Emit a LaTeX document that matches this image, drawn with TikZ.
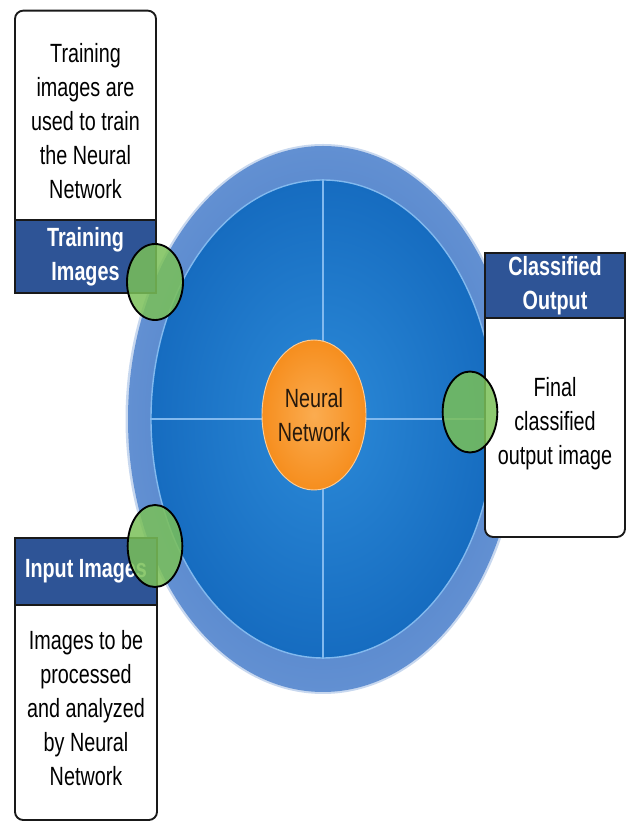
\documentclass[tikz,border=0pt]{standalone}
\usepackage{fontspec}
\setmainfont{Liberation Sans}[FakeStretch=0.75]
\usetikzlibrary{positioning,shapes.geometric}

\definecolor{headblue}{RGB}{46,84,150}
\definecolor{rimin}{RGB}{62,114,192}
\definecolor{rimout}{RGB}{98,144,210}
\definecolor{hubin}{RGB}{44,138,216}
\definecolor{hubout}{RGB}{22,108,192}
\definecolor{spokeblue}{RGB}{130,185,238}
\definecolor{coreorange}{RGB}{246,142,30}
\definecolor{corelight}{RGB}{251,172,80}
\definecolor{portgreen}{RGB}{122,192,88}

\tikzset{
	notebox/.style={draw=black!90, line width=1.6pt, fill=white, rounded corners=7pt,
		inner sep=0pt, align=center, font=\fontsize{22.5}{29}\selectfont},
	headbox/.style={draw=black!90, line width=1.6pt, fill=headblue, text=white,
		inner sep=0pt, align=center, font=\fontsize{22.5}{29}\selectfont\bfseries},
	port/.style={ellipse, draw=black, line width=1.6pt, fill=portgreen,
		fill opacity=0.85, inner sep=0pt, minimum width=1.64cm},
	spoke/.style={draw=spokeblue, line width=1.3pt}
}

\begin{document}
\begin{tikzpicture}
	\useasboundingbox (0,0) rectangle (18.87,24.69);
	\coordinate (o) at (9.69,12.12);
	%% wheel
	\node[ellipse, minimum width=11.85cm, minimum height=16.5cm, inner sep=0pt,
		fill=rimout!35!white] (halo) at (o) {};
	\node[ellipse, minimum width=11.7cm, minimum height=16.38cm, inner sep=0pt,
		inner color=rimin, outer color=rimout] (rim) at (o) {};
	\node[ellipse, minimum width=10.32cm, minimum height=14.34cm, inner sep=0pt,
		draw=spokeblue, line width=1.2pt, inner color=hubin, outer color=hubout] (hub) at (o) {};
	\draw[spoke] (hub.north) -- (hub.south);
	\draw[spoke] (hub.west) -- (hub.east);
	\node[ellipse, minimum width=3.12cm, minimum height=4.5cm, inner sep=0pt,
		draw=corelight!60!white, line width=0.8pt, inner color=corelight, outer color=coreorange,
		text=black!80!brown, align=center, font=\fontsize{22.5}{29}\selectfont,
		above right =0.12 and -0.27 of o, anchor=center] (nn) {Neural\\Network};
	%% training box (upper left)
	\node[notebox, minimum width=4.23cm, minimum height=6.6cm,
		above right =8.95 and -7.125 of o, anchor=center] (trainnote)
		{Training\\images are\\used to train\\the Neural\\Network};
	\node[headbox, minimum width=4.23cm, minimum height=2.19cm,
		above right =4.875 and -7.125 of o, anchor=center] (trainhead) {Training\\Images};
	%% output box (right)
	\node[notebox, minimum width=4.2cm, minimum height=6.81cm,
		above right =-0.135 and 6.96 of o, anchor=center] (outnote)
		{Final\\classified\\output image};
	\node[headbox, minimum width=4.2cm, minimum height=1.95cm,
		above right =4.005 and 6.96 of o, anchor=center] (outhead) {Classified\\Output};
	%% input box (lower left)
	\node[notebox, minimum width=4.26cm, minimum height=6.69cm,
		above right =-8.685 and -7.11 of o, anchor=center] (innote)
		{Images to be\\processed\\and analyzed\\by Neural\\Network};
	\node[headbox, minimum width=4.26cm, minimum height=2.01cm,
		above right =-4.575 and -7.11 of o, anchor=center] (inhead) {Input Images};
	%% ports
	\node[port, minimum width=1.68cm, minimum height=2.28cm,
		above right =4.11 and -5.04 of o, anchor=center] (trainport) {};
	\node[port, minimum height=2.43cm,
		above right =0.21 and 4.41 of o, anchor=center] (outport) {};
	\node[port, minimum height=2.46cm,
		above right =-3.81 and -5.04 of o, anchor=center] (inport) {};
\end{tikzpicture}
\end{document}
